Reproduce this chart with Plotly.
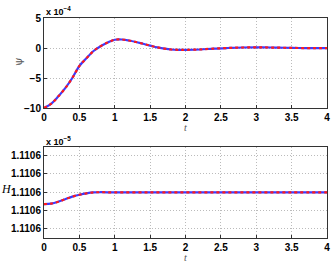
import plotly.graph_objects as go
from plotly.subplots import make_subplots

# ---- data ----
t_psi = [0, 0.1, 0.2, 0.3, 0.4, 0.5, 0.6, 0.7, 0.8, 0.9, 1.0, 1.1, 1.2, 1.3, 1.4, 1.5,
         1.6, 1.7, 1.8, 1.9, 2.0, 2.2, 2.4, 2.6, 2.8, 3.0, 3.2, 3.4, 3.6, 3.8, 4.0]
psi = [-10, -9.3, -8.1, -6.7, -5.0, -3.0, -1.7, -0.5, 0.3, 0.9, 1.38, 1.42, 1.25, 1.0, 0.7, 0.4,
       0.1, -0.1, -0.25, -0.3, -0.3, -0.25, -0.1, 0.0, 0.08, 0.1, 0.08, 0.04, 0.0, -0.02, -0.02]

t_H = [0, 0.1, 0.2, 0.3, 0.4, 0.5, 0.6, 0.7, 0.8, 1.0, 1.5, 2.0, 2.5, 3.0, 3.5, 4.0]
H = [1.1105987, 1.11059876, 1.11059896, 1.11059924, 1.11059952, 1.11059972, 1.11059988,
     1.11059998, 1.1106, 1.11059998, 1.11059998, 1.11059998, 1.11059998, 1.11059998,
     1.11059998, 1.11059998]

x_ticks = [0, 0.5, 1, 1.5, 2, 2.5, 3, 3.5, 4]
x_tick_text = ["0", "0.5", "1", "1.5", "2", "2.5", "3", "3.5", "4"]
psi_ticks = [-10, -5, 0, 5]
psi_tick_text = ["\u221210", "\u22125", "0", "5"]
H_ticks = [1.110596, 1.110598, 1.110600, 1.110602, 1.110604]
H_tick_text = ["1.1106", "1.1106", "1.1106", "1.1106", "1.1106"]

# ---- layout geometry ----
W, Hh = 333, 262
L, R, T, B = 44, 6, 18, 24
pw, ph = W - L - R, Hh - T - B


def px(x):  # page pixel -> paper
    return (x - L) / pw


def py(y):  # page pixel -> paper
    return (Hh - B - y) / ph


fig = make_subplots(rows=2, cols=1, vertical_spacing=0)

blue = "#3b3bff"
red = "#ff1a1a"

for row, (tx, yy) in enumerate([(t_psi, psi), (t_H, H)], start=1):
    fig.add_trace(go.Scatter(x=tx, y=yy, mode="lines", line=dict(color=blue, width=2.2, shape="spline", smoothing=1.0),
                             showlegend=False, hoverinfo="skip"), row=row, col=1)
    fig.add_trace(go.Scatter(x=tx, y=yy, mode="lines", line=dict(color=red, width=2.2, dash="3px,3px", shape="spline", smoothing=1.0),
                             showlegend=False, hoverinfo="skip"), row=row, col=1)

tickfont = dict(family="Liberation Sans, Arial", size=10, color="black", weight="bold")
axis_common = dict(showline=True, mirror=True, linecolor="#333333", linewidth=1,
                   ticks="inside", ticklen=3, tickcolor="#333333",
                   showgrid=True, gridcolor="#bbbbbb", griddash="1px,2px", gridwidth=1,
                   zeroline=False, tickfont=tickfont, automargin=False)

fig.update_layout(
    width=W, height=Hh,
    margin=dict(l=L, r=R, t=T, b=B, autoexpand=False),
    paper_bgcolor="white", plot_bgcolor="white",
    xaxis=dict(domain=[0, 1], range=[0, 4], tickvals=x_ticks, ticktext=x_tick_text, **axis_common),
    xaxis2=dict(domain=[0, 1], range=[0, 4], tickvals=x_ticks, ticktext=x_tick_text, **axis_common),
    yaxis=dict(domain=[py(108), 1], range=[-10, 5], tickvals=psi_ticks, ticktext=psi_tick_text, **axis_common),
    yaxis2=dict(domain=[0, py(147)], range=[1.11059502, 1.11060492], tickvals=H_ticks, ticktext=H_tick_text, **axis_common),
)

ann = []
ann.append(dict(text="\u03c8", x=px(19), y=py(62), xref="paper", yref="paper", showarrow=False,
                textangle=-90, font=dict(family="DejaVu Serif", size=11, color="#555555"),
                xanchor="center", yanchor="middle"))
ann.append(dict(text="<i>H</i>", x=px(6), y=py(189), xref="paper", yref="paper", showarrow=False,
                font=dict(family="Liberation Serif", size=12, color="black"),
                xanchor="center", yanchor="middle"))
for yc in (127, 257):
    ann.append(dict(text="<i>t</i>", x=px(185.5), y=py(yc), xref="paper", yref="paper", showarrow=False,
                    font=dict(family="Liberation Serif", size=10, color="#555555"),
                    xanchor="center", yanchor="middle"))
for yc, ex in ((11, "\u22124"), (141, "\u22125")):
    ann.append(dict(text="<b>x 10<sup>" + ex + "</sup></b>", x=px(44), y=py(yc), xref="paper", yref="paper",
                    showarrow=False, font=dict(family="Liberation Sans, Arial", size=9, color="black"),
                    xanchor="left", yanchor="middle"))
fig.update_layout(annotations=ann)

fig.write_html("out.html", config={"displayModeBar": False},
               post_script="document.body.style.margin='0';document.body.style.overflow='hidden';")
